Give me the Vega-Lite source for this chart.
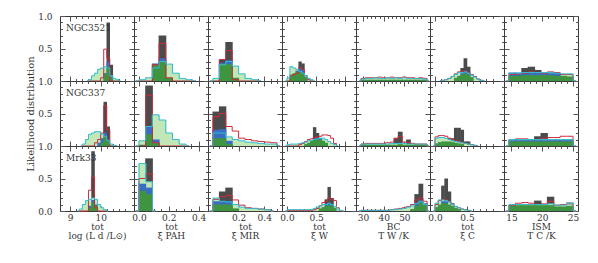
{
"$schema":"https://vega.github.io/schema/vega-lite/v6.json",
"padding":{"left":25,"top":11,"right":5,"bottom":5},
"config":{
 "view":{"stroke":"#3a3a3a","strokeWidth":1},
 "axis":{"domain":false,"grid":false,"labelFont":"DejaVu Serif","titleFont":"DejaVu Serif","labelFontSize":9,"titleFontSize":9,"labelColor":"#333","titleColor":"#333","tickColor":"#555","titleFontWeight":"normal","labelFlush":false,"labelOverlap":false},
 "axisX":{"labelPadding":7,"titlePadding":-2,"titleLineHeight":9},
 "axisY":{"labelPadding":13,"titlePadding":2,"titleFontSize":10},
 "axisTop":{"labels":false},
 "axisRight":{"labels":false},
 "title":{"font":"DejaVu Serif","fontSize":9,"fontWeight":"normal","color":"#333","anchor":"start","frame":"group","offset":-21,"dx":6},
 "bar":{"clip":true},
 "line":{"clip":true,"interpolate":"step","strokeWidth":1}
},
"data":{"name":"d"},
"datasets":{"d":[
{"p":"L","g":"A","x":9.55,"r":0,"c":0},
{"p":"L","g":"A","x":9.65,"r":0,"c":0.02},
{"p":"L","g":"A","x":9.75,"r":0,"c":0.08},
{"p":"L","g":"A","x":9.85,"r":0,"c":0.12},
{"p":"L","g":"A","x":9.95,"r":0,"c":0.18},
{"p":"L","g":"A","x":10.05,"r":0.05,"c":0.2},
{"p":"L","g":"A","x":10.15,"r":0.49,"c":0.22,"b":0.12,"n":0.1},
{"p":"L","g":"A","x":10.25,"k":0.9,"r":0.35,"c":0.2,"b":0.3,"n":0.22},
{"p":"L","g":"A","x":10.35,"k":0.25,"r":0,"c":0.08,"b":0.07,"n":0.05},
{"p":"L","g":"A","x":10.45,"r":0,"c":0.04},
{"p":"L","g":"A","x":10.55,"r":0,"c":0.02},
{"p":"L","g":"A","x":10.65,"r":0,"c":0},
{"p":"L","g":"B","x":9.35,"r":0,"c":0},
{"p":"L","g":"B","x":9.45,"r":0,"c":0.03},
{"p":"L","g":"B","x":9.55,"r":0,"c":0.1},
{"p":"L","g":"B","x":9.65,"r":0,"c":0.18},
{"p":"L","g":"B","x":9.75,"r":0,"c":0.2},
{"p":"L","g":"B","x":9.85,"r":0.05,"c":0.22},
{"p":"L","g":"B","x":9.95,"r":0.1,"c":0.22,"b":0.05},
{"p":"L","g":"B","x":10.05,"r":0.2,"c":0.18,"b":0.12,"n":0.05},
{"p":"L","g":"B","x":10.15,"k":0.68,"r":0.62,"c":0.15,"b":0.21,"n":0.15},
{"p":"L","g":"B","x":10.25,"k":0.3,"r":0.25,"c":0.08,"b":0.1,"n":0.08},
{"p":"L","g":"B","x":10.35,"r":0,"c":0.03},
{"p":"L","g":"B","x":10.45,"r":0,"c":0.01},
{"p":"L","g":"B","x":10.55,"r":0,"c":0},
{"p":"L","g":"C","x":9.25,"r":0,"c":0},
{"p":"L","g":"C","x":9.35,"r":0,"c":0.03},
{"p":"L","g":"C","x":9.45,"r":0,"c":0.1},
{"p":"L","g":"C","x":9.55,"r":0,"c":0.16},
{"p":"L","g":"C","x":9.65,"r":0.32,"c":0.18,"b":0.08,"n":0.05},
{"p":"L","g":"C","x":9.75,"k":0.92,"r":0.52,"c":0.2,"b":0.17,"n":0.13},
{"p":"L","g":"C","x":9.85,"r":0.05,"c":0.18,"b":0.1,"n":0.08},
{"p":"L","g":"C","x":9.95,"r":0,"c":0.1},
{"p":"L","g":"C","x":10.05,"r":0,"c":0.05},
{"p":"L","g":"C","x":10.15,"r":0,"c":0.02},
{"p":"L","g":"C","x":10.25,"r":0,"c":0},
{"p":"P","g":"A","x":-0.0225,"r":0,"c":0},
{"p":"P","g":"A","x":0.0225,"r":0,"c":0.02},
{"p":"P","g":"A","x":0.0675,"r":0,"c":0.05},
{"p":"P","g":"A","x":0.1125,"k":0.26,"r":0.25,"c":0.2,"b":0.27,"n":0.25},
{"p":"P","g":"A","x":0.1575,"k":0.7,"r":0.58,"c":0.3,"b":0.35,"n":0.3},
{"p":"P","g":"A","x":0.2025,"r":0.05,"c":0.26,"n":0.05},
{"p":"P","g":"A","x":0.2475,"r":0,"c":0.12},
{"p":"P","g":"A","x":0.2925,"r":0,"c":0.04},
{"p":"P","g":"A","x":0.3375,"r":0,"c":0.02},
{"p":"P","g":"A","x":0.3825,"r":0,"c":0},
{"p":"P","g":"B","x":-0.0225,"r":0,"c":0},
{"p":"P","g":"B","x":0.0225,"r":0,"c":0.08,"n":0.02},
{"p":"P","g":"B","x":0.0675,"k":0.93,"r":0.78,"c":0.3,"b":0.3,"n":0.18},
{"p":"P","g":"B","x":0.1125,"r":0.05,"c":0.48,"b":0.1,"n":0.05},
{"p":"P","g":"B","x":0.1575,"r":0,"c":0.4},
{"p":"P","g":"B","x":0.2025,"r":0,"c":0.2},
{"p":"P","g":"B","x":0.2475,"r":0,"c":0.1},
{"p":"P","g":"B","x":0.2925,"r":0,"c":0.03},
{"p":"P","g":"B","x":0.3375,"r":0,"c":0},
{"p":"P","g":"C","x":-0.0225,"r":0,"c":0},
{"p":"P","g":"C","x":0.0225,"r":0.5,"c":0.73,"b":0.42,"n":0.31},
{"p":"P","g":"C","x":0.0675,"k":0.81,"r":0.57,"c":0.45,"b":0.36,"n":0.26},
{"p":"P","g":"C","x":0.1125,"r":0,"c":0},
{"p":"M","g":"A","x":-0.025,"r":0,"c":0},
{"p":"M","g":"A","x":0.025,"r":0,"c":0.04},
{"p":"M","g":"A","x":0.075,"k":0.33,"r":0.33,"c":0.25,"b":0.28,"n":0.26},
{"p":"M","g":"A","x":0.125,"k":0.6,"r":0.47,"c":0.3,"b":0.32,"n":0.26},
{"p":"M","g":"A","x":0.175,"r":0.02,"c":0.23,"n":0.05},
{"p":"M","g":"A","x":0.225,"r":0,"c":0.11},
{"p":"M","g":"A","x":0.275,"r":0,"c":0.04},
{"p":"M","g":"A","x":0.325,"r":0,"c":0.02},
{"p":"M","g":"A","x":0.375,"r":0,"c":0},
{"p":"M","g":"B","x":-0.025,"r":0,"c":0},
{"p":"M","g":"B","x":0.025,"k":0.53,"r":0.45,"c":0.2,"b":0.25,"n":0.12},
{"p":"M","g":"B","x":0.075,"k":0.61,"r":0.5,"c":0.2,"b":0.26,"n":0.12},
{"p":"M","g":"B","x":0.125,"r":0.3,"c":0.14,"b":0.08,"n":0.03},
{"p":"M","g":"B","x":0.175,"r":0.23,"c":0.1},
{"p":"M","g":"B","x":0.225,"r":0.12,"c":0.08},
{"p":"M","g":"B","x":0.275,"r":0.1,"c":0.06},
{"p":"M","g":"B","x":0.325,"r":0.08,"c":0.05},
{"p":"M","g":"B","x":0.375,"r":0.07,"c":0.04},
{"p":"M","g":"B","x":0.425,"r":0.06,"c":0.03},
{"p":"M","g":"B","x":0.475,"r":0.05,"c":0.03},
{"p":"M","g":"B","x":0.525,"r":0,"c":0},
{"p":"M","g":"C","x":-0.025,"r":0,"c":0},
{"p":"M","g":"C","x":0.025,"r":0.18,"c":0.2,"b":0.15,"n":0.1},
{"p":"M","g":"C","x":0.075,"k":0.3,"r":0.22,"c":0.15,"b":0.15,"n":0.1},
{"p":"M","g":"C","x":0.125,"k":0.36,"r":0.24,"c":0.14,"b":0.15,"n":0.1},
{"p":"M","g":"C","x":0.175,"r":0.17,"c":0.1,"n":0.04},
{"p":"M","g":"C","x":0.225,"r":0.09,"c":0.06},
{"p":"M","g":"C","x":0.275,"r":0.05,"c":0.04},
{"p":"M","g":"C","x":0.325,"r":0.04,"c":0.04},
{"p":"M","g":"C","x":0.375,"r":0.03,"c":0.03},
{"p":"M","g":"C","x":0.425,"r":0.02,"c":0.02},
{"p":"M","g":"C","x":0.475,"r":0,"c":0},
{"p":"W","g":"A","x":-0.025,"r":0,"c":0},
{"p":"W","g":"A","x":0.025,"r":0,"c":0.05},
{"p":"W","g":"A","x":0.075,"r":0.08,"c":0.22,"n":0.1},
{"p":"W","g":"A","x":0.125,"r":0.1,"c":0.2,"n":0.12},
{"p":"W","g":"A","x":0.175,"r":0.12,"c":0.18,"b":0.16,"n":0.14},
{"p":"W","g":"A","x":0.225,"k":0.3,"r":0.2,"c":0.15,"b":0.2,"n":0.15},
{"p":"W","g":"A","x":0.275,"k":0.27,"r":0.18,"c":0.12,"b":0.17,"n":0.12},
{"p":"W","g":"A","x":0.325,"r":0.08,"c":0.08,"n":0.06},
{"p":"W","g":"A","x":0.375,"r":0.02,"c":0.04},
{"p":"W","g":"A","x":0.425,"r":0,"c":0.02},
{"p":"W","g":"A","x":0.475,"r":0,"c":0},
{"p":"W","g":"B","x":-0.025,"r":0,"c":0},
{"p":"W","g":"B","x":0.025,"r":0,"c":0.02},
{"p":"W","g":"B","x":0.075,"r":0,"c":0.03},
{"p":"W","g":"B","x":0.125,"r":0,"c":0.03},
{"p":"W","g":"B","x":0.175,"r":0,"c":0.03},
{"p":"W","g":"B","x":0.225,"r":0.02,"c":0.04},
{"p":"W","g":"B","x":0.275,"r":0.04,"c":0.05},
{"p":"W","g":"B","x":0.325,"r":0.07,"c":0.06,"n":0.03},
{"p":"W","g":"B","x":0.375,"r":0.1,"c":0.08,"n":0.05},
{"p":"W","g":"B","x":0.425,"r":0.11,"c":0.09,"n":0.08},
{"p":"W","g":"B","x":0.475,"k":0.29,"r":0.13,"c":0.1,"b":0.12,"n":0.1},
{"p":"W","g":"B","x":0.525,"k":0.2,"r":0.14,"c":0.11,"b":0.12,"n":0.1},
{"p":"W","g":"B","x":0.575,"r":0.15,"c":0.12,"b":0.12,"n":0.1},
{"p":"W","g":"B","x":0.625,"r":0.17,"c":0.12,"n":0.08},
{"p":"W","g":"B","x":0.675,"r":0.17,"c":0.1,"n":0.05},
{"p":"W","g":"B","x":0.725,"r":0.16,"c":0.07},
{"p":"W","g":"B","x":0.775,"r":0.12,"c":0.04},
{"p":"W","g":"B","x":0.825,"r":0.04,"c":0.02},
{"p":"W","g":"B","x":0.875,"r":0,"c":0},
{"p":"W","g":"C","x":-0.025,"r":0,"c":0},
{"p":"W","g":"C","x":0.025,"r":0.01,"c":0.02},
{"p":"W","g":"C","x":0.075,"r":0.01,"c":0.02},
{"p":"W","g":"C","x":0.125,"r":0.01,"c":0.02},
{"p":"W","g":"C","x":0.175,"r":0.01,"c":0.02},
{"p":"W","g":"C","x":0.225,"r":0.01,"c":0.02},
{"p":"W","g":"C","x":0.275,"r":0.01,"c":0.02},
{"p":"W","g":"C","x":0.325,"r":0.01,"c":0.02},
{"p":"W","g":"C","x":0.375,"r":0.01,"c":0.02},
{"p":"W","g":"C","x":0.425,"r":0.01,"c":0.02},
{"p":"W","g":"C","x":0.475,"r":0.02,"c":0.04},
{"p":"W","g":"C","x":0.525,"r":0.04,"c":0.06},
{"p":"W","g":"C","x":0.575,"r":0.08,"c":0.08,"n":0.04},
{"p":"W","g":"C","x":0.625,"r":0.13,"c":0.1,"n":0.06},
{"p":"W","g":"C","x":0.675,"k":0.18,"r":0.15,"c":0.1,"b":0.1,"n":0.08},
{"p":"W","g":"C","x":0.725,"k":0.37,"r":0.2,"c":0.12,"b":0.12,"n":0.09},
{"p":"W","g":"C","x":0.775,"k":0.2,"r":0.18,"c":0.1,"b":0.1,"n":0.08},
{"p":"W","g":"C","x":0.825,"r":0.16,"c":0.07,"n":0.05},
{"p":"W","g":"C","x":0.875,"r":0.05,"c":0.03},
{"p":"W","g":"C","x":0.925,"r":0,"c":0.01},
{"p":"W","g":"C","x":0.975,"r":0,"c":0},
{"p":"T","g":"A","x":28,"r":0,"c":0},
{"p":"T","g":"A","x":30,"r":0.04,"c":0.03,"n":0.02},
{"p":"T","g":"A","x":32,"r":0.05,"c":0.04,"n":0.02},
{"p":"T","g":"A","x":34,"r":0.05,"c":0.04,"n":0.02},
{"p":"T","g":"A","x":36,"r":0.05,"c":0.05,"n":0.02},
{"p":"T","g":"A","x":38,"r":0.06,"c":0.04,"n":0.02},
{"p":"T","g":"A","x":40,"r":0.05,"c":0.04,"n":0.02},
{"p":"T","g":"A","x":42,"r":0.05,"c":0.05,"n":0.02},
{"p":"T","g":"A","x":44,"r":0.06,"c":0.04,"n":0.02},
{"p":"T","g":"A","x":46,"r":0.05,"c":0.05,"n":0.02},
{"p":"T","g":"A","x":48,"r":0.05,"c":0.04,"n":0.02},
{"p":"T","g":"A","x":50,"r":0.06,"c":0.05,"n":0.02},
{"p":"T","g":"A","x":52,"r":0.05,"c":0.04,"n":0.02},
{"p":"T","g":"A","x":54,"r":0.05,"c":0.04,"n":0.02},
{"p":"T","g":"A","x":56,"r":0.04,"c":0.04,"n":0.02},
{"p":"T","g":"A","x":58,"r":0.05,"c":0.04,"n":0.02},
{"p":"T","g":"A","x":60,"r":0.04,"c":0.03,"n":0.02},
{"p":"T","g":"A","x":62,"r":0,"c":0},
{"p":"T","g":"B","x":28,"r":0,"c":0},
{"p":"T","g":"B","x":30,"r":0.03,"c":0.03,"n":0.02},
{"p":"T","g":"B","x":32,"r":0.04,"c":0.03,"n":0.02},
{"p":"T","g":"B","x":34,"r":0.04,"c":0.03,"n":0.02},
{"p":"T","g":"B","x":36,"r":0.04,"c":0.03,"n":0.02},
{"p":"T","g":"B","x":38,"r":0.04,"c":0.03,"n":0.02},
{"p":"T","g":"B","x":40,"r":0.04,"c":0.03,"n":0.02},
{"p":"T","g":"B","x":42,"r":0.05,"c":0.03,"n":0.02},
{"p":"T","g":"B","x":44,"r":0.06,"c":0.04,"n":0.02},
{"p":"T","g":"B","x":46,"k":0.12,"r":0.12,"c":0.04,"n":0.02},
{"p":"T","g":"B","x":48,"k":0.22,"r":0.15,"c":0.04,"n":0.03},
{"p":"T","g":"B","x":50,"r":0.06,"c":0.04,"n":0.02},
{"p":"T","g":"B","x":52,"k":0.1,"r":0.05,"c":0.03,"n":0.02},
{"p":"T","g":"B","x":54,"r":0.04,"c":0.03,"n":0.02},
{"p":"T","g":"B","x":56,"r":0.03,"c":0.03,"n":0.02},
{"p":"T","g":"B","x":58,"r":0.03,"c":0.03,"n":0.02},
{"p":"T","g":"B","x":60,"r":0.03,"c":0.03,"n":0.02},
{"p":"T","g":"B","x":62,"r":0,"c":0},
{"p":"T","g":"C","x":28,"r":0,"c":0},
{"p":"T","g":"C","x":30,"r":0.01,"c":0.01},
{"p":"T","g":"C","x":32,"r":0.01,"c":0.01},
{"p":"T","g":"C","x":34,"r":0.01,"c":0.01},
{"p":"T","g":"C","x":36,"r":0.01,"c":0.01},
{"p":"T","g":"C","x":38,"r":0.01,"c":0.01},
{"p":"T","g":"C","x":40,"r":0.01,"c":0.01},
{"p":"T","g":"C","x":42,"r":0.01,"c":0.01},
{"p":"T","g":"C","x":44,"r":0.02,"c":0.02},
{"p":"T","g":"C","x":46,"r":0.03,"c":0.02},
{"p":"T","g":"C","x":48,"r":0.04,"c":0.03},
{"p":"T","g":"C","x":50,"r":0.05,"c":0.04},
{"p":"T","g":"C","x":52,"r":0.07,"c":0.06},
{"p":"T","g":"C","x":54,"r":0.1,"c":0.08,"n":0.03},
{"p":"T","g":"C","x":56,"k":0.26,"r":0.17,"c":0.12,"b":0.12,"n":0.08},
{"p":"T","g":"C","x":58,"k":0.42,"r":0.2,"c":0.15,"b":0.16,"n":0.13},
{"p":"T","g":"C","x":60,"r":0.15,"c":0.1,"b":0.12,"n":0.1},
{"p":"T","g":"C","x":62,"r":0,"c":0},
{"p":"C","g":"A","x":0.075,"r":0,"c":0},
{"p":"C","g":"A","x":0.125,"r":0.01,"c":0.01},
{"p":"C","g":"A","x":0.175,"r":0.02,"c":0.02},
{"p":"C","g":"A","x":0.225,"r":0.04,"c":0.04},
{"p":"C","g":"A","x":0.275,"r":0.07,"c":0.07},
{"p":"C","g":"A","x":0.325,"r":0.11,"c":0.1,"n":0.05},
{"p":"C","g":"A","x":0.375,"r":0.14,"c":0.13,"n":0.08},
{"p":"C","g":"A","x":0.425,"k":0.2,"r":0.15,"c":0.13,"b":0.12,"n":0.1},
{"p":"C","g":"A","x":0.475,"k":0.35,"r":0.15,"c":0.14,"b":0.16,"n":0.12},
{"p":"C","g":"A","x":0.525,"k":0.22,"r":0.13,"c":0.12,"b":0.12,"n":0.1},
{"p":"C","g":"A","x":0.575,"r":0.1,"c":0.09,"n":0.06},
{"p":"C","g":"A","x":0.625,"r":0.07,"c":0.06},
{"p":"C","g":"A","x":0.675,"r":0.03,"c":0.03},
{"p":"C","g":"A","x":0.725,"r":0.01,"c":0.01},
{"p":"C","g":"A","x":0.775,"r":0,"c":0},
{"p":"C","g":"B","x":-0.025,"r":0,"c":0},
{"p":"C","g":"B","x":0.025,"r":0.14,"c":0.12,"n":0.04},
{"p":"C","g":"B","x":0.075,"r":0.16,"c":0.13,"n":0.06},
{"p":"C","g":"B","x":0.125,"r":0.16,"c":0.13,"n":0.07},
{"p":"C","g":"B","x":0.175,"r":0.15,"c":0.12,"n":0.07},
{"p":"C","g":"B","x":0.225,"k":0.12,"r":0.12,"c":0.1,"n":0.07},
{"p":"C","g":"B","x":0.275,"k":0.12,"r":0.1,"c":0.08,"n":0.06},
{"p":"C","g":"B","x":0.325,"k":0.28,"r":0.08,"c":0.07,"n":0.05},
{"p":"C","g":"B","x":0.375,"k":0.28,"r":0.07,"c":0.06,"n":0.04},
{"p":"C","g":"B","x":0.425,"k":0.25,"r":0.05,"c":0.05,"n":0.03},
{"p":"C","g":"B","x":0.475,"k":0.07,"r":0.04,"c":0.04},
{"p":"C","g":"B","x":0.525,"k":0.07,"r":0.03,"c":0.03},
{"p":"C","g":"B","x":0.575,"r":0.02,"c":0.02},
{"p":"C","g":"B","x":0.625,"r":0.01,"c":0.01},
{"p":"C","g":"B","x":0.675,"r":0,"c":0},
{"p":"C","g":"C","x":-0.025,"r":0,"c":0},
{"p":"C","g":"C","x":0.025,"r":0.1,"c":0.12,"n":0.06},
{"p":"C","g":"C","x":0.075,"k":0.15,"r":0.16,"c":0.17,"n":0.1},
{"p":"C","g":"C","x":0.125,"k":0.39,"r":0.18,"c":0.17,"b":0.15,"n":0.12},
{"p":"C","g":"C","x":0.175,"k":0.5,"r":0.17,"c":0.16,"b":0.15,"n":0.12},
{"p":"C","g":"C","x":0.225,"k":0.3,"r":0.14,"c":0.14,"n":0.1},
{"p":"C","g":"C","x":0.275,"k":0.12,"r":0.1,"c":0.1,"n":0.08},
{"p":"C","g":"C","x":0.325,"r":0.07,"c":0.07,"n":0.05},
{"p":"C","g":"C","x":0.375,"r":0.05,"c":0.05,"n":0.03},
{"p":"C","g":"C","x":0.425,"r":0.03,"c":0.03},
{"p":"C","g":"C","x":0.475,"r":0.02,"c":0.02},
{"p":"C","g":"C","x":0.525,"r":0.01,"c":0.01},
{"p":"C","g":"C","x":0.575,"r":0,"c":0},
{"p":"I","g":"A","x":14.08,"r":0,"c":0},
{"p":"I","g":"A","x":15.12,"r":0.1,"c":0.12,"b":0.13,"n":0.08},
{"p":"I","g":"A","x":16.16,"r":0.11,"c":0.12,"b":0.13,"n":0.08},
{"p":"I","g":"A","x":17.2,"k":0.2,"r":0.12,"c":0.13,"b":0.13,"n":0.09},
{"p":"I","g":"A","x":18.24,"k":0.22,"r":0.14,"c":0.13,"b":0.13,"n":0.09},
{"p":"I","g":"A","x":19.28,"k":0.17,"r":0.13,"c":0.13,"b":0.13,"n":0.09},
{"p":"I","g":"A","x":20.32,"r":0.12,"c":0.13,"b":0.12,"n":0.09},
{"p":"I","g":"A","x":21.36,"r":0.14,"c":0.13,"b":0.12,"n":0.09},
{"p":"I","g":"A","x":22.4,"r":0.13,"c":0.12,"b":0.12,"n":0.08},
{"p":"I","g":"A","x":23.44,"r":0.1,"c":0.11,"n":0.08},
{"p":"I","g":"A","x":24.48,"r":0.1,"c":0.11,"n":0.07},
{"p":"I","g":"A","x":25.52,"r":0,"c":0},
{"p":"I","g":"B","x":14.08,"r":0,"c":0},
{"p":"I","g":"B","x":15.12,"r":0.1,"c":0.1,"b":0.09,"n":0.07},
{"p":"I","g":"B","x":16.16,"r":0.11,"c":0.1,"b":0.09,"n":0.07},
{"p":"I","g":"B","x":17.2,"r":0.11,"c":0.1,"b":0.09,"n":0.07},
{"p":"I","g":"B","x":18.24,"r":0.1,"c":0.1,"b":0.09,"n":0.07},
{"p":"I","g":"B","x":19.28,"k":0.15,"r":0.1,"c":0.1,"b":0.09,"n":0.07},
{"p":"I","g":"B","x":20.32,"k":0.2,"r":0.12,"c":0.1,"b":0.09,"n":0.07},
{"p":"I","g":"B","x":21.36,"r":0.13,"c":0.1,"b":0.09,"n":0.07},
{"p":"I","g":"B","x":22.4,"r":0.13,"c":0.1,"b":0.09,"n":0.07},
{"p":"I","g":"B","x":23.44,"r":0.15,"c":0.1,"b":0.09,"n":0.07},
{"p":"I","g":"B","x":24.48,"r":0.15,"c":0.1,"b":0.09,"n":0.07},
{"p":"I","g":"B","x":25.52,"r":0,"c":0},
{"p":"I","g":"C","x":14.08,"r":0,"c":0},
{"p":"I","g":"C","x":15.12,"r":0.09,"c":0.1,"n":0.09},
{"p":"I","g":"C","x":16.16,"r":0.12,"c":0.1,"n":0.09},
{"p":"I","g":"C","x":17.2,"r":0.13,"c":0.1,"n":0.09},
{"p":"I","g":"C","x":18.24,"r":0.12,"c":0.1,"n":0.09},
{"p":"I","g":"C","x":19.28,"k":0.16,"r":0.1,"c":0.1,"n":0.09},
{"p":"I","g":"C","x":20.32,"r":0.11,"c":0.1,"n":0.09},
{"p":"I","g":"C","x":21.36,"k":0.22,"r":0.15,"c":0.11,"n":0.09},
{"p":"I","g":"C","x":22.4,"r":0.09,"c":0.09,"n":0.07},
{"p":"I","g":"C","x":23.44,"r":0.1,"c":0.09,"n":0.07},
{"p":"I","g":"C","x":24.48,"k":0.13,"r":0.11,"c":0.12,"n":0.08},
{"p":"I","g":"C","x":25.52,"r":0,"c":0}
]},
"columns":7,
"spacing":0,
"bounds":"flush",
"concat":[
{"transform":[{"filter":"datum.p=='L'&&datum.g=='A'"}],"width":74,"height":65,"title":"NGC3521",
 "encoding":{"x":{"field":"x","type":"quantitative","scale":{"domain":[8.83,10.93],"nice":false,"zero":false},"axis":null}},
 "layer":[
  {"mark":{"type":"bar","width":3.5,"color":"#4b4b4b"},"encoding":{"x":{"field":"x","type":"quantitative","scale":{"domain":[8.83,10.93],"nice":false,"zero":false},"axis":{"orient":"bottom","values":[9,9.2,9.4,9.6,9.8,10,10.2,10.4,10.6,10.8],"labels":false,"title":null,"tickSize":{"condition":{"test":"datum.value==9||datum.value==10","value":-5},"value":-2.5}}},"y":{"field":"k","type":"quantitative","scale":{"domain":[0,1],"nice":false},"axis":{"orient":"left","values":[0,0.1,0.2,0.3,0.4,0.5,0.6,0.7,0.8,0.9,1],"labelExpr":"datum.value==0.5||datum.value==1 ? format(datum.value,'.1f') : ''","title":"Likelihood distribution","titleY":97.5,"tickSize":{"condition":{"test":"datum.value==0||datum.value==0.5||datum.value==1","value":-5},"value":-2.5}}}}},
  {"mark":{"type":"bar","width":3.5,"color":"#c2e7b6"},"encoding":{"y":{"field":"c","type":"quantitative","axis":null}}},
  {"mark":{"type":"bar","width":3.5,"color":"#3a6cc0"},"encoding":{"y":{"field":"b","type":"quantitative","axis":null}}},
  {"mark":{"type":"bar","width":3.5,"color":"#3f9440"},"encoding":{"y":{"field":"n","type":"quantitative","axis":null}}},
  {"mark":{"type":"line","color":"#cc2b3b"},"encoding":{"y":{"field":"r","type":"quantitative","axis":{"orient":"right","values":[0,0.1,0.2,0.3,0.4,0.5,0.6,0.7,0.8,0.9,1],"title":null,"tickSize":{"condition":{"test":"datum.value==0||datum.value==0.5||datum.value==1","value":-5},"value":-2.5}}}}},
  {"mark":{"type":"line","color":"#2fbdd2"},"encoding":{"x":{"field":"x","type":"quantitative","scale":{"domain":[8.83,10.93],"nice":false,"zero":false},"axis":{"orient":"top","values":[9,9.2,9.4,9.6,9.8,10,10.2,10.4,10.6,10.8],"title":null,"tickSize":{"condition":{"test":"datum.value==9||datum.value==10","value":-5},"value":-2.5}}},"y":{"field":"c","type":"quantitative","axis":null}}}
 ]},
{"transform":[{"filter":"datum.p=='P'&&datum.g=='A'"}],"width":74,"height":65,
 "encoding":{"x":{"field":"x","type":"quantitative","scale":{"domain":[0,0.43],"nice":false,"zero":false},"axis":null}},
 "layer":[
  {"mark":{"type":"bar","width":7.7,"color":"#4b4b4b"},"encoding":{"x":{"field":"x","type":"quantitative","scale":{"domain":[0,0.43],"nice":false,"zero":false},"axis":{"orient":"bottom","values":[0,0.05,0.1,0.15,0.2,0.25,0.3,0.35,0.4],"labels":false,"title":null,"tickSize":{"condition":{"test":"datum.value==0||datum.value==0.2||datum.value==0.4","value":-5},"value":-2.5}}},"y":{"field":"k","type":"quantitative","scale":{"domain":[0,1],"nice":false},"axis":{"orient":"left","values":[0,0.1,0.2,0.3,0.4,0.5,0.6,0.7,0.8,0.9,1],"labels":false,"title":null,"tickSize":{"condition":{"test":"datum.value==0||datum.value==0.5||datum.value==1","value":-5},"value":-2.5}}}}},
  {"mark":{"type":"bar","width":7.7,"color":"#c2e7b6"},"encoding":{"y":{"field":"c","type":"quantitative","axis":null}}},
  {"mark":{"type":"bar","width":7.7,"color":"#3a6cc0"},"encoding":{"y":{"field":"b","type":"quantitative","axis":null}}},
  {"mark":{"type":"bar","width":7.7,"color":"#3f9440"},"encoding":{"y":{"field":"n","type":"quantitative","axis":null}}},
  {"mark":{"type":"line","color":"#cc2b3b"},"encoding":{"y":{"field":"r","type":"quantitative","axis":{"orient":"right","values":[0,0.1,0.2,0.3,0.4,0.5,0.6,0.7,0.8,0.9,1],"title":null,"tickSize":{"condition":{"test":"datum.value==0||datum.value==0.5||datum.value==1","value":-5},"value":-2.5}}}}},
  {"mark":{"type":"line","color":"#2fbdd2"},"encoding":{"x":{"field":"x","type":"quantitative","scale":{"domain":[0,0.43],"nice":false,"zero":false},"axis":{"orient":"top","values":[0,0.05,0.1,0.15,0.2,0.25,0.3,0.35,0.4],"title":null,"tickSize":{"condition":{"test":"datum.value==0||datum.value==0.2||datum.value==0.4","value":-5},"value":-2.5}}},"y":{"field":"c","type":"quantitative","axis":null}}}
 ]},
{"transform":[{"filter":"datum.p=='M'&&datum.g=='A'"}],"width":74,"height":65,
 "encoding":{"x":{"field":"x","type":"quantitative","scale":{"domain":[0,0.5],"nice":false,"zero":false},"axis":null}},
 "layer":[
  {"mark":{"type":"bar","width":7.4,"color":"#4b4b4b"},"encoding":{"x":{"field":"x","type":"quantitative","scale":{"domain":[0,0.5],"nice":false,"zero":false},"axis":{"orient":"bottom","values":[0,0.05,0.1,0.15,0.2,0.25,0.3,0.35,0.4,0.45,0.5],"labels":false,"title":null,"tickSize":{"condition":{"test":"datum.value==0.2||datum.value==0.4","value":-5},"value":-2.5}}},"y":{"field":"k","type":"quantitative","scale":{"domain":[0,1],"nice":false},"axis":{"orient":"left","values":[0,0.1,0.2,0.3,0.4,0.5,0.6,0.7,0.8,0.9,1],"labels":false,"title":null,"tickSize":{"condition":{"test":"datum.value==0||datum.value==0.5||datum.value==1","value":-5},"value":-2.5}}}}},
  {"mark":{"type":"bar","width":7.4,"color":"#c2e7b6"},"encoding":{"y":{"field":"c","type":"quantitative","axis":null}}},
  {"mark":{"type":"bar","width":7.4,"color":"#3a6cc0"},"encoding":{"y":{"field":"b","type":"quantitative","axis":null}}},
  {"mark":{"type":"bar","width":7.4,"color":"#3f9440"},"encoding":{"y":{"field":"n","type":"quantitative","axis":null}}},
  {"mark":{"type":"line","color":"#cc2b3b"},"encoding":{"y":{"field":"r","type":"quantitative","axis":{"orient":"right","values":[0,0.1,0.2,0.3,0.4,0.5,0.6,0.7,0.8,0.9,1],"title":null,"tickSize":{"condition":{"test":"datum.value==0||datum.value==0.5||datum.value==1","value":-5},"value":-2.5}}}}},
  {"mark":{"type":"line","color":"#2fbdd2"},"encoding":{"x":{"field":"x","type":"quantitative","scale":{"domain":[0,0.5],"nice":false,"zero":false},"axis":{"orient":"top","values":[0,0.05,0.1,0.15,0.2,0.25,0.3,0.35,0.4,0.45,0.5],"title":null,"tickSize":{"condition":{"test":"datum.value==0.2||datum.value==0.4","value":-5},"value":-2.5}}},"y":{"field":"c","type":"quantitative","axis":null}}}
 ]},
{"transform":[{"filter":"datum.p=='W'&&datum.g=='A'"}],"width":74,"height":65,
 "encoding":{"x":{"field":"x","type":"quantitative","scale":{"domain":[0,1.1],"nice":false,"zero":false},"axis":null}},
 "layer":[
  {"mark":{"type":"bar","width":3.4,"color":"#4b4b4b"},"encoding":{"x":{"field":"x","type":"quantitative","scale":{"domain":[0,1.1],"nice":false,"zero":false},"axis":{"orient":"bottom","values":[0,0.1,0.2,0.3,0.4,0.5,0.6,0.7,0.8,0.9,1],"labels":false,"title":null,"tickSize":{"condition":{"test":"datum.value==0||datum.value==0.5||datum.value==1","value":-5},"value":-2.5}}},"y":{"field":"k","type":"quantitative","scale":{"domain":[0,1],"nice":false},"axis":{"orient":"left","values":[0,0.1,0.2,0.3,0.4,0.5,0.6,0.7,0.8,0.9,1],"labels":false,"title":null,"tickSize":{"condition":{"test":"datum.value==0||datum.value==0.5||datum.value==1","value":-5},"value":-2.5}}}}},
  {"mark":{"type":"bar","width":3.4,"color":"#c2e7b6"},"encoding":{"y":{"field":"c","type":"quantitative","axis":null}}},
  {"mark":{"type":"bar","width":3.4,"color":"#3a6cc0"},"encoding":{"y":{"field":"b","type":"quantitative","axis":null}}},
  {"mark":{"type":"bar","width":3.4,"color":"#3f9440"},"encoding":{"y":{"field":"n","type":"quantitative","axis":null}}},
  {"mark":{"type":"line","color":"#cc2b3b"},"encoding":{"y":{"field":"r","type":"quantitative","axis":{"orient":"right","values":[0,0.1,0.2,0.3,0.4,0.5,0.6,0.7,0.8,0.9,1],"title":null,"tickSize":{"condition":{"test":"datum.value==0||datum.value==0.5||datum.value==1","value":-5},"value":-2.5}}}}},
  {"mark":{"type":"line","color":"#2fbdd2"},"encoding":{"x":{"field":"x","type":"quantitative","scale":{"domain":[0,1.1],"nice":false,"zero":false},"axis":{"orient":"top","values":[0,0.1,0.2,0.3,0.4,0.5,0.6,0.7,0.8,0.9,1],"title":null,"tickSize":{"condition":{"test":"datum.value==0||datum.value==0.5||datum.value==1","value":-5},"value":-2.5}}},"y":{"field":"c","type":"quantitative","axis":null}}}
 ]},
{"transform":[{"filter":"datum.p=='T'&&datum.g=='A'"}],"width":74,"height":65,
 "encoding":{"x":{"field":"x","type":"quantitative","scale":{"domain":[29,60],"nice":false,"zero":false},"axis":null}},
 "layer":[
  {"mark":{"type":"bar","width":4.8,"color":"#4b4b4b"},"encoding":{"x":{"field":"x","type":"quantitative","scale":{"domain":[29,60],"nice":false,"zero":false},"axis":{"orient":"bottom","values":[30,32,34,36,38,40,42,44,46,48,50,52,54,56,58],"labels":false,"title":null,"tickSize":{"condition":{"test":"datum.value==30||datum.value==40||datum.value==50","value":-5},"value":-2.5}}},"y":{"field":"k","type":"quantitative","scale":{"domain":[0,1],"nice":false},"axis":{"orient":"left","values":[0,0.1,0.2,0.3,0.4,0.5,0.6,0.7,0.8,0.9,1],"labels":false,"title":null,"tickSize":{"condition":{"test":"datum.value==0||datum.value==0.5||datum.value==1","value":-5},"value":-2.5}}}}},
  {"mark":{"type":"bar","width":4.8,"color":"#c2e7b6"},"encoding":{"y":{"field":"c","type":"quantitative","axis":null}}},
  {"mark":{"type":"bar","width":4.8,"color":"#3a6cc0"},"encoding":{"y":{"field":"b","type":"quantitative","axis":null}}},
  {"mark":{"type":"bar","width":4.8,"color":"#3f9440"},"encoding":{"y":{"field":"n","type":"quantitative","axis":null}}},
  {"mark":{"type":"line","color":"#cc2b3b"},"encoding":{"y":{"field":"r","type":"quantitative","axis":{"orient":"right","values":[0,0.1,0.2,0.3,0.4,0.5,0.6,0.7,0.8,0.9,1],"title":null,"tickSize":{"condition":{"test":"datum.value==0||datum.value==0.5||datum.value==1","value":-5},"value":-2.5}}}}},
  {"mark":{"type":"line","color":"#2fbdd2"},"encoding":{"x":{"field":"x","type":"quantitative","scale":{"domain":[29,60],"nice":false,"zero":false},"axis":{"orient":"top","values":[30,32,34,36,38,40,42,44,46,48,50,52,54,56,58],"title":null,"tickSize":{"condition":{"test":"datum.value==30||datum.value==40||datum.value==50","value":-5},"value":-2.5}}},"y":{"field":"c","type":"quantitative","axis":null}}}
 ]},
{"transform":[{"filter":"datum.p=='C'&&datum.g=='A'"}],"width":74,"height":65,
 "encoding":{"x":{"field":"x","type":"quantitative","scale":{"domain":[0,1],"nice":false,"zero":false},"axis":null}},
 "layer":[
  {"mark":{"type":"bar","width":3.7,"color":"#4b4b4b"},"encoding":{"x":{"field":"x","type":"quantitative","scale":{"domain":[0,1],"nice":false,"zero":false},"axis":{"orient":"bottom","values":[0,0.1,0.2,0.3,0.4,0.5,0.6,0.7,0.8,0.9],"labels":false,"title":null,"tickSize":{"condition":{"test":"datum.value==0||datum.value==0.5","value":-5},"value":-2.5}}},"y":{"field":"k","type":"quantitative","scale":{"domain":[0,1],"nice":false},"axis":{"orient":"left","values":[0,0.1,0.2,0.3,0.4,0.5,0.6,0.7,0.8,0.9,1],"labels":false,"title":null,"tickSize":{"condition":{"test":"datum.value==0||datum.value==0.5||datum.value==1","value":-5},"value":-2.5}}}}},
  {"mark":{"type":"bar","width":3.7,"color":"#c2e7b6"},"encoding":{"y":{"field":"c","type":"quantitative","axis":null}}},
  {"mark":{"type":"bar","width":3.7,"color":"#3a6cc0"},"encoding":{"y":{"field":"b","type":"quantitative","axis":null}}},
  {"mark":{"type":"bar","width":3.7,"color":"#3f9440"},"encoding":{"y":{"field":"n","type":"quantitative","axis":null}}},
  {"mark":{"type":"line","color":"#cc2b3b"},"encoding":{"y":{"field":"r","type":"quantitative","axis":{"orient":"right","values":[0,0.1,0.2,0.3,0.4,0.5,0.6,0.7,0.8,0.9,1],"title":null,"tickSize":{"condition":{"test":"datum.value==0||datum.value==0.5||datum.value==1","value":-5},"value":-2.5}}}}},
  {"mark":{"type":"line","color":"#2fbdd2"},"encoding":{"x":{"field":"x","type":"quantitative","scale":{"domain":[0,1],"nice":false,"zero":false},"axis":{"orient":"top","values":[0,0.1,0.2,0.3,0.4,0.5,0.6,0.7,0.8,0.9],"title":null,"tickSize":{"condition":{"test":"datum.value==0||datum.value==0.5","value":-5},"value":-2.5}}},"y":{"field":"c","type":"quantitative","axis":null}}}
 ]},
{"transform":[{"filter":"datum.p=='I'&&datum.g=='A'"}],"width":74,"height":65,
 "encoding":{"x":{"field":"x","type":"quantitative","scale":{"domain":[14.6,25],"nice":false,"zero":false},"axis":null}},
 "layer":[
  {"mark":{"type":"bar","width":7.4,"color":"#4b4b4b"},"encoding":{"x":{"field":"x","type":"quantitative","scale":{"domain":[14.6,25],"nice":false,"zero":false},"axis":{"orient":"bottom","values":[15,16,17,18,19,20,21,22,23,24,25],"labels":false,"title":null,"tickSize":{"condition":{"test":"datum.value==15||datum.value==20||datum.value==25","value":-5},"value":-2.5}}},"y":{"field":"k","type":"quantitative","scale":{"domain":[0,1],"nice":false},"axis":{"orient":"left","values":[0,0.1,0.2,0.3,0.4,0.5,0.6,0.7,0.8,0.9,1],"labels":false,"title":null,"tickSize":{"condition":{"test":"datum.value==0||datum.value==0.5||datum.value==1","value":-5},"value":-2.5}}}}},
  {"mark":{"type":"bar","width":7.4,"color":"#c2e7b6"},"encoding":{"y":{"field":"c","type":"quantitative","axis":null}}},
  {"mark":{"type":"bar","width":7.4,"color":"#3a6cc0"},"encoding":{"y":{"field":"b","type":"quantitative","axis":null}}},
  {"mark":{"type":"bar","width":7.4,"color":"#3f9440"},"encoding":{"y":{"field":"n","type":"quantitative","axis":null}}},
  {"mark":{"type":"line","color":"#cc2b3b"},"encoding":{"y":{"field":"r","type":"quantitative","axis":{"orient":"right","values":[0,0.1,0.2,0.3,0.4,0.5,0.6,0.7,0.8,0.9,1],"title":null,"tickSize":{"condition":{"test":"datum.value==0||datum.value==0.5||datum.value==1","value":-5},"value":-2.5}}}}},
  {"mark":{"type":"line","color":"#2fbdd2"},"encoding":{"x":{"field":"x","type":"quantitative","scale":{"domain":[14.6,25],"nice":false,"zero":false},"axis":{"orient":"top","values":[15,16,17,18,19,20,21,22,23,24,25],"title":null,"tickSize":{"condition":{"test":"datum.value==15||datum.value==20||datum.value==25","value":-5},"value":-2.5}}},"y":{"field":"c","type":"quantitative","axis":null}}}
 ]},
{"transform":[{"filter":"datum.p=='L'&&datum.g=='B'"}],"width":74,"height":65,"title":"NGC337",
 "encoding":{"x":{"field":"x","type":"quantitative","scale":{"domain":[8.83,10.93],"nice":false,"zero":false},"axis":null}},
 "layer":[
  {"mark":{"type":"bar","width":3.5,"color":"#4b4b4b"},"encoding":{"x":{"field":"x","type":"quantitative","scale":{"domain":[8.83,10.93],"nice":false,"zero":false},"axis":{"orient":"bottom","values":[9,9.2,9.4,9.6,9.8,10,10.2,10.4,10.6,10.8],"labels":false,"title":null,"tickSize":{"condition":{"test":"datum.value==9||datum.value==10","value":-5},"value":-2.5}}},"y":{"field":"k","type":"quantitative","scale":{"domain":[0,1],"nice":false},"axis":{"orient":"left","values":[0,0.1,0.2,0.3,0.4,0.5,0.6,0.7,0.8,0.9,1],"labelExpr":"datum.value==0.5||datum.value==1 ? format(datum.value,'.1f') : ''","title":null,"tickSize":{"condition":{"test":"datum.value==0||datum.value==0.5||datum.value==1","value":-5},"value":-2.5}}}}},
  {"mark":{"type":"bar","width":3.5,"color":"#c2e7b6"},"encoding":{"y":{"field":"c","type":"quantitative","axis":null}}},
  {"mark":{"type":"bar","width":3.5,"color":"#3a6cc0"},"encoding":{"y":{"field":"b","type":"quantitative","axis":null}}},
  {"mark":{"type":"bar","width":3.5,"color":"#3f9440"},"encoding":{"y":{"field":"n","type":"quantitative","axis":null}}},
  {"mark":{"type":"line","color":"#cc2b3b"},"encoding":{"y":{"field":"r","type":"quantitative","axis":{"orient":"right","values":[0,0.1,0.2,0.3,0.4,0.5,0.6,0.7,0.8,0.9,1],"title":null,"tickSize":{"condition":{"test":"datum.value==0||datum.value==0.5||datum.value==1","value":-5},"value":-2.5}}}}},
  {"mark":{"type":"line","color":"#2fbdd2"},"encoding":{"x":{"field":"x","type":"quantitative","scale":{"domain":[8.83,10.93],"nice":false,"zero":false},"axis":{"orient":"top","values":[9,9.2,9.4,9.6,9.8,10,10.2,10.4,10.6,10.8],"title":null,"tickSize":{"condition":{"test":"datum.value==9||datum.value==10","value":-5},"value":-2.5}}},"y":{"field":"c","type":"quantitative","axis":null}}}
 ]},
{"transform":[{"filter":"datum.p=='P'&&datum.g=='B'"}],"width":74,"height":65,
 "encoding":{"x":{"field":"x","type":"quantitative","scale":{"domain":[0,0.43],"nice":false,"zero":false},"axis":null}},
 "layer":[
  {"mark":{"type":"bar","width":7.7,"color":"#4b4b4b"},"encoding":{"x":{"field":"x","type":"quantitative","scale":{"domain":[0,0.43],"nice":false,"zero":false},"axis":{"orient":"bottom","values":[0,0.05,0.1,0.15,0.2,0.25,0.3,0.35,0.4],"labels":false,"title":null,"tickSize":{"condition":{"test":"datum.value==0||datum.value==0.2||datum.value==0.4","value":-5},"value":-2.5}}},"y":{"field":"k","type":"quantitative","scale":{"domain":[0,1],"nice":false},"axis":{"orient":"left","values":[0,0.1,0.2,0.3,0.4,0.5,0.6,0.7,0.8,0.9,1],"labels":false,"title":null,"tickSize":{"condition":{"test":"datum.value==0||datum.value==0.5||datum.value==1","value":-5},"value":-2.5}}}}},
  {"mark":{"type":"bar","width":7.7,"color":"#c2e7b6"},"encoding":{"y":{"field":"c","type":"quantitative","axis":null}}},
  {"mark":{"type":"bar","width":7.7,"color":"#3a6cc0"},"encoding":{"y":{"field":"b","type":"quantitative","axis":null}}},
  {"mark":{"type":"bar","width":7.7,"color":"#3f9440"},"encoding":{"y":{"field":"n","type":"quantitative","axis":null}}},
  {"mark":{"type":"line","color":"#cc2b3b"},"encoding":{"y":{"field":"r","type":"quantitative","axis":{"orient":"right","values":[0,0.1,0.2,0.3,0.4,0.5,0.6,0.7,0.8,0.9,1],"title":null,"tickSize":{"condition":{"test":"datum.value==0||datum.value==0.5||datum.value==1","value":-5},"value":-2.5}}}}},
  {"mark":{"type":"line","color":"#2fbdd2"},"encoding":{"x":{"field":"x","type":"quantitative","scale":{"domain":[0,0.43],"nice":false,"zero":false},"axis":{"orient":"top","values":[0,0.05,0.1,0.15,0.2,0.25,0.3,0.35,0.4],"title":null,"tickSize":{"condition":{"test":"datum.value==0||datum.value==0.2||datum.value==0.4","value":-5},"value":-2.5}}},"y":{"field":"c","type":"quantitative","axis":null}}}
 ]},
{"transform":[{"filter":"datum.p=='M'&&datum.g=='B'"}],"width":74,"height":65,
 "encoding":{"x":{"field":"x","type":"quantitative","scale":{"domain":[0,0.5],"nice":false,"zero":false},"axis":null}},
 "layer":[
  {"mark":{"type":"bar","width":7.4,"color":"#4b4b4b"},"encoding":{"x":{"field":"x","type":"quantitative","scale":{"domain":[0,0.5],"nice":false,"zero":false},"axis":{"orient":"bottom","values":[0,0.05,0.1,0.15,0.2,0.25,0.3,0.35,0.4,0.45,0.5],"labels":false,"title":null,"tickSize":{"condition":{"test":"datum.value==0.2||datum.value==0.4","value":-5},"value":-2.5}}},"y":{"field":"k","type":"quantitative","scale":{"domain":[0,1],"nice":false},"axis":{"orient":"left","values":[0,0.1,0.2,0.3,0.4,0.5,0.6,0.7,0.8,0.9,1],"labels":false,"title":null,"tickSize":{"condition":{"test":"datum.value==0||datum.value==0.5||datum.value==1","value":-5},"value":-2.5}}}}},
  {"mark":{"type":"bar","width":7.4,"color":"#c2e7b6"},"encoding":{"y":{"field":"c","type":"quantitative","axis":null}}},
  {"mark":{"type":"bar","width":7.4,"color":"#3a6cc0"},"encoding":{"y":{"field":"b","type":"quantitative","axis":null}}},
  {"mark":{"type":"bar","width":7.4,"color":"#3f9440"},"encoding":{"y":{"field":"n","type":"quantitative","axis":null}}},
  {"mark":{"type":"line","color":"#cc2b3b"},"encoding":{"y":{"field":"r","type":"quantitative","axis":{"orient":"right","values":[0,0.1,0.2,0.3,0.4,0.5,0.6,0.7,0.8,0.9,1],"title":null,"tickSize":{"condition":{"test":"datum.value==0||datum.value==0.5||datum.value==1","value":-5},"value":-2.5}}}}},
  {"mark":{"type":"line","color":"#2fbdd2"},"encoding":{"x":{"field":"x","type":"quantitative","scale":{"domain":[0,0.5],"nice":false,"zero":false},"axis":{"orient":"top","values":[0,0.05,0.1,0.15,0.2,0.25,0.3,0.35,0.4,0.45,0.5],"title":null,"tickSize":{"condition":{"test":"datum.value==0.2||datum.value==0.4","value":-5},"value":-2.5}}},"y":{"field":"c","type":"quantitative","axis":null}}}
 ]},
{"transform":[{"filter":"datum.p=='W'&&datum.g=='B'"}],"width":74,"height":65,
 "encoding":{"x":{"field":"x","type":"quantitative","scale":{"domain":[0,1.1],"nice":false,"zero":false},"axis":null}},
 "layer":[
  {"mark":{"type":"bar","width":3.4,"color":"#4b4b4b"},"encoding":{"x":{"field":"x","type":"quantitative","scale":{"domain":[0,1.1],"nice":false,"zero":false},"axis":{"orient":"bottom","values":[0,0.1,0.2,0.3,0.4,0.5,0.6,0.7,0.8,0.9,1],"labels":false,"title":null,"tickSize":{"condition":{"test":"datum.value==0||datum.value==0.5||datum.value==1","value":-5},"value":-2.5}}},"y":{"field":"k","type":"quantitative","scale":{"domain":[0,1],"nice":false},"axis":{"orient":"left","values":[0,0.1,0.2,0.3,0.4,0.5,0.6,0.7,0.8,0.9,1],"labels":false,"title":null,"tickSize":{"condition":{"test":"datum.value==0||datum.value==0.5||datum.value==1","value":-5},"value":-2.5}}}}},
  {"mark":{"type":"bar","width":3.4,"color":"#c2e7b6"},"encoding":{"y":{"field":"c","type":"quantitative","axis":null}}},
  {"mark":{"type":"bar","width":3.4,"color":"#3a6cc0"},"encoding":{"y":{"field":"b","type":"quantitative","axis":null}}},
  {"mark":{"type":"bar","width":3.4,"color":"#3f9440"},"encoding":{"y":{"field":"n","type":"quantitative","axis":null}}},
  {"mark":{"type":"line","color":"#cc2b3b"},"encoding":{"y":{"field":"r","type":"quantitative","axis":{"orient":"right","values":[0,0.1,0.2,0.3,0.4,0.5,0.6,0.7,0.8,0.9,1],"title":null,"tickSize":{"condition":{"test":"datum.value==0||datum.value==0.5||datum.value==1","value":-5},"value":-2.5}}}}},
  {"mark":{"type":"line","color":"#2fbdd2"},"encoding":{"x":{"field":"x","type":"quantitative","scale":{"domain":[0,1.1],"nice":false,"zero":false},"axis":{"orient":"top","values":[0,0.1,0.2,0.3,0.4,0.5,0.6,0.7,0.8,0.9,1],"title":null,"tickSize":{"condition":{"test":"datum.value==0||datum.value==0.5||datum.value==1","value":-5},"value":-2.5}}},"y":{"field":"c","type":"quantitative","axis":null}}}
 ]},
{"transform":[{"filter":"datum.p=='T'&&datum.g=='B'"}],"width":74,"height":65,
 "encoding":{"x":{"field":"x","type":"quantitative","scale":{"domain":[29,60],"nice":false,"zero":false},"axis":null}},
 "layer":[
  {"mark":{"type":"bar","width":4.8,"color":"#4b4b4b"},"encoding":{"x":{"field":"x","type":"quantitative","scale":{"domain":[29,60],"nice":false,"zero":false},"axis":{"orient":"bottom","values":[30,32,34,36,38,40,42,44,46,48,50,52,54,56,58],"labels":false,"title":null,"tickSize":{"condition":{"test":"datum.value==30||datum.value==40||datum.value==50","value":-5},"value":-2.5}}},"y":{"field":"k","type":"quantitative","scale":{"domain":[0,1],"nice":false},"axis":{"orient":"left","values":[0,0.1,0.2,0.3,0.4,0.5,0.6,0.7,0.8,0.9,1],"labels":false,"title":null,"tickSize":{"condition":{"test":"datum.value==0||datum.value==0.5||datum.value==1","value":-5},"value":-2.5}}}}},
  {"mark":{"type":"bar","width":4.8,"color":"#c2e7b6"},"encoding":{"y":{"field":"c","type":"quantitative","axis":null}}},
  {"mark":{"type":"bar","width":4.8,"color":"#3a6cc0"},"encoding":{"y":{"field":"b","type":"quantitative","axis":null}}},
  {"mark":{"type":"bar","width":4.8,"color":"#3f9440"},"encoding":{"y":{"field":"n","type":"quantitative","axis":null}}},
  {"mark":{"type":"line","color":"#cc2b3b"},"encoding":{"y":{"field":"r","type":"quantitative","axis":{"orient":"right","values":[0,0.1,0.2,0.3,0.4,0.5,0.6,0.7,0.8,0.9,1],"title":null,"tickSize":{"condition":{"test":"datum.value==0||datum.value==0.5||datum.value==1","value":-5},"value":-2.5}}}}},
  {"mark":{"type":"line","color":"#2fbdd2"},"encoding":{"x":{"field":"x","type":"quantitative","scale":{"domain":[29,60],"nice":false,"zero":false},"axis":{"orient":"top","values":[30,32,34,36,38,40,42,44,46,48,50,52,54,56,58],"title":null,"tickSize":{"condition":{"test":"datum.value==30||datum.value==40||datum.value==50","value":-5},"value":-2.5}}},"y":{"field":"c","type":"quantitative","axis":null}}}
 ]},
{"transform":[{"filter":"datum.p=='C'&&datum.g=='B'"}],"width":74,"height":65,
 "encoding":{"x":{"field":"x","type":"quantitative","scale":{"domain":[0,1],"nice":false,"zero":false},"axis":null}},
 "layer":[
  {"mark":{"type":"bar","width":3.7,"color":"#4b4b4b"},"encoding":{"x":{"field":"x","type":"quantitative","scale":{"domain":[0,1],"nice":false,"zero":false},"axis":{"orient":"bottom","values":[0,0.1,0.2,0.3,0.4,0.5,0.6,0.7,0.8,0.9],"labels":false,"title":null,"tickSize":{"condition":{"test":"datum.value==0||datum.value==0.5","value":-5},"value":-2.5}}},"y":{"field":"k","type":"quantitative","scale":{"domain":[0,1],"nice":false},"axis":{"orient":"left","values":[0,0.1,0.2,0.3,0.4,0.5,0.6,0.7,0.8,0.9,1],"labels":false,"title":null,"tickSize":{"condition":{"test":"datum.value==0||datum.value==0.5||datum.value==1","value":-5},"value":-2.5}}}}},
  {"mark":{"type":"bar","width":3.7,"color":"#c2e7b6"},"encoding":{"y":{"field":"c","type":"quantitative","axis":null}}},
  {"mark":{"type":"bar","width":3.7,"color":"#3a6cc0"},"encoding":{"y":{"field":"b","type":"quantitative","axis":null}}},
  {"mark":{"type":"bar","width":3.7,"color":"#3f9440"},"encoding":{"y":{"field":"n","type":"quantitative","axis":null}}},
  {"mark":{"type":"line","color":"#cc2b3b"},"encoding":{"y":{"field":"r","type":"quantitative","axis":{"orient":"right","values":[0,0.1,0.2,0.3,0.4,0.5,0.6,0.7,0.8,0.9,1],"title":null,"tickSize":{"condition":{"test":"datum.value==0||datum.value==0.5||datum.value==1","value":-5},"value":-2.5}}}}},
  {"mark":{"type":"line","color":"#2fbdd2"},"encoding":{"x":{"field":"x","type":"quantitative","scale":{"domain":[0,1],"nice":false,"zero":false},"axis":{"orient":"top","values":[0,0.1,0.2,0.3,0.4,0.5,0.6,0.7,0.8,0.9],"title":null,"tickSize":{"condition":{"test":"datum.value==0||datum.value==0.5","value":-5},"value":-2.5}}},"y":{"field":"c","type":"quantitative","axis":null}}}
 ]},
{"transform":[{"filter":"datum.p=='I'&&datum.g=='B'"}],"width":74,"height":65,
 "encoding":{"x":{"field":"x","type":"quantitative","scale":{"domain":[14.6,25],"nice":false,"zero":false},"axis":null}},
 "layer":[
  {"mark":{"type":"bar","width":7.4,"color":"#4b4b4b"},"encoding":{"x":{"field":"x","type":"quantitative","scale":{"domain":[14.6,25],"nice":false,"zero":false},"axis":{"orient":"bottom","values":[15,16,17,18,19,20,21,22,23,24,25],"labels":false,"title":null,"tickSize":{"condition":{"test":"datum.value==15||datum.value==20||datum.value==25","value":-5},"value":-2.5}}},"y":{"field":"k","type":"quantitative","scale":{"domain":[0,1],"nice":false},"axis":{"orient":"left","values":[0,0.1,0.2,0.3,0.4,0.5,0.6,0.7,0.8,0.9,1],"labels":false,"title":null,"tickSize":{"condition":{"test":"datum.value==0||datum.value==0.5||datum.value==1","value":-5},"value":-2.5}}}}},
  {"mark":{"type":"bar","width":7.4,"color":"#c2e7b6"},"encoding":{"y":{"field":"c","type":"quantitative","axis":null}}},
  {"mark":{"type":"bar","width":7.4,"color":"#3a6cc0"},"encoding":{"y":{"field":"b","type":"quantitative","axis":null}}},
  {"mark":{"type":"bar","width":7.4,"color":"#3f9440"},"encoding":{"y":{"field":"n","type":"quantitative","axis":null}}},
  {"mark":{"type":"line","color":"#cc2b3b"},"encoding":{"y":{"field":"r","type":"quantitative","axis":{"orient":"right","values":[0,0.1,0.2,0.3,0.4,0.5,0.6,0.7,0.8,0.9,1],"title":null,"tickSize":{"condition":{"test":"datum.value==0||datum.value==0.5||datum.value==1","value":-5},"value":-2.5}}}}},
  {"mark":{"type":"line","color":"#2fbdd2"},"encoding":{"x":{"field":"x","type":"quantitative","scale":{"domain":[14.6,25],"nice":false,"zero":false},"axis":{"orient":"top","values":[15,16,17,18,19,20,21,22,23,24,25],"title":null,"tickSize":{"condition":{"test":"datum.value==15||datum.value==20||datum.value==25","value":-5},"value":-2.5}}},"y":{"field":"c","type":"quantitative","axis":null}}}
 ]},
{"transform":[{"filter":"datum.p=='L'&&datum.g=='C'"}],"width":74,"height":65,"title":"Mrk33",
 "encoding":{"x":{"field":"x","type":"quantitative","scale":{"domain":[8.83,10.93],"nice":false,"zero":false},"axis":null}},
 "layer":[
  {"mark":{"type":"bar","width":3.5,"color":"#4b4b4b"},"encoding":{"x":{"field":"x","type":"quantitative","scale":{"domain":[8.83,10.93],"nice":false,"zero":false},"axis":{"orient":"bottom","values":[9,9.2,9.4,9.6,9.8,10,10.2,10.4,10.6,10.8],"labelExpr":"datum.value==9||datum.value==10 ? format(datum.value,'d') : ''","title":["\u00a0\u00a0\u00a0\u00a0\u00a0\u00a0\u00a0\u00a0tot\u00a0\u00a0\u00a0\u00a0","log (L d /L\u2299)"],"tickSize":{"condition":{"test":"datum.value==9||datum.value==10","value":-5},"value":-2.5}}},"y":{"field":"k","type":"quantitative","scale":{"domain":[0,1],"nice":false},"axis":{"orient":"left","values":[0,0.1,0.2,0.3,0.4,0.5,0.6,0.7,0.8,0.9,1],"labelExpr":"datum.value==0||datum.value==0.5||datum.value==1 ? format(datum.value,'.1f') : ''","title":null,"tickSize":{"condition":{"test":"datum.value==0||datum.value==0.5||datum.value==1","value":-5},"value":-2.5}}}}},
  {"mark":{"type":"bar","width":3.5,"color":"#c2e7b6"},"encoding":{"y":{"field":"c","type":"quantitative","axis":null}}},
  {"mark":{"type":"bar","width":3.5,"color":"#3a6cc0"},"encoding":{"y":{"field":"b","type":"quantitative","axis":null}}},
  {"mark":{"type":"bar","width":3.5,"color":"#3f9440"},"encoding":{"y":{"field":"n","type":"quantitative","axis":null}}},
  {"mark":{"type":"line","color":"#cc2b3b"},"encoding":{"y":{"field":"r","type":"quantitative","axis":{"orient":"right","values":[0,0.1,0.2,0.3,0.4,0.5,0.6,0.7,0.8,0.9,1],"title":null,"tickSize":{"condition":{"test":"datum.value==0||datum.value==0.5||datum.value==1","value":-5},"value":-2.5}}}}},
  {"mark":{"type":"line","color":"#2fbdd2"},"encoding":{"x":{"field":"x","type":"quantitative","scale":{"domain":[8.83,10.93],"nice":false,"zero":false},"axis":{"orient":"top","values":[9,9.2,9.4,9.6,9.8,10,10.2,10.4,10.6,10.8],"title":null,"tickSize":{"condition":{"test":"datum.value==9||datum.value==10","value":-5},"value":-2.5}}},"y":{"field":"c","type":"quantitative","axis":null}}}
 ]},
{"transform":[{"filter":"datum.p=='P'&&datum.g=='C'"}],"width":74,"height":65,
 "encoding":{"x":{"field":"x","type":"quantitative","scale":{"domain":[0,0.43],"nice":false,"zero":false},"axis":null}},
 "layer":[
  {"mark":{"type":"bar","width":7.7,"color":"#4b4b4b"},"encoding":{"x":{"field":"x","type":"quantitative","scale":{"domain":[0,0.43],"nice":false,"zero":false},"axis":{"orient":"bottom","values":[0,0.05,0.1,0.15,0.2,0.25,0.3,0.35,0.4],"labelExpr":"datum.value==0||datum.value==0.2||datum.value==0.4 ? format(datum.value,'.1f') : ''","title":["\u00a0\u00a0\u00a0\u00a0tot","\u03be PAH"],"tickSize":{"condition":{"test":"datum.value==0||datum.value==0.2||datum.value==0.4","value":-5},"value":-2.5}}},"y":{"field":"k","type":"quantitative","scale":{"domain":[0,1],"nice":false},"axis":{"orient":"left","values":[0,0.1,0.2,0.3,0.4,0.5,0.6,0.7,0.8,0.9,1],"labels":false,"title":null,"tickSize":{"condition":{"test":"datum.value==0||datum.value==0.5||datum.value==1","value":-5},"value":-2.5}}}}},
  {"mark":{"type":"bar","width":7.7,"color":"#c2e7b6"},"encoding":{"y":{"field":"c","type":"quantitative","axis":null}}},
  {"mark":{"type":"bar","width":7.7,"color":"#3a6cc0"},"encoding":{"y":{"field":"b","type":"quantitative","axis":null}}},
  {"mark":{"type":"bar","width":7.7,"color":"#3f9440"},"encoding":{"y":{"field":"n","type":"quantitative","axis":null}}},
  {"mark":{"type":"line","color":"#cc2b3b"},"encoding":{"y":{"field":"r","type":"quantitative","axis":{"orient":"right","values":[0,0.1,0.2,0.3,0.4,0.5,0.6,0.7,0.8,0.9,1],"title":null,"tickSize":{"condition":{"test":"datum.value==0||datum.value==0.5||datum.value==1","value":-5},"value":-2.5}}}}},
  {"mark":{"type":"line","color":"#2fbdd2"},"encoding":{"x":{"field":"x","type":"quantitative","scale":{"domain":[0,0.43],"nice":false,"zero":false},"axis":{"orient":"top","values":[0,0.05,0.1,0.15,0.2,0.25,0.3,0.35,0.4],"title":null,"tickSize":{"condition":{"test":"datum.value==0||datum.value==0.2||datum.value==0.4","value":-5},"value":-2.5}}},"y":{"field":"c","type":"quantitative","axis":null}}}
 ]},
{"transform":[{"filter":"datum.p=='M'&&datum.g=='C'"}],"width":74,"height":65,
 "encoding":{"x":{"field":"x","type":"quantitative","scale":{"domain":[0,0.5],"nice":false,"zero":false},"axis":null}},
 "layer":[
  {"mark":{"type":"bar","width":7.4,"color":"#4b4b4b"},"encoding":{"x":{"field":"x","type":"quantitative","scale":{"domain":[0,0.5],"nice":false,"zero":false},"axis":{"orient":"bottom","values":[0,0.05,0.1,0.15,0.2,0.25,0.3,0.35,0.4,0.45,0.5],"labelExpr":"datum.value==0.2||datum.value==0.4 ? format(datum.value,'.1f') : ''","title":["\u00a0\u00a0\u00a0\u00a0tot","\u03be MIR"],"tickSize":{"condition":{"test":"datum.value==0.2||datum.value==0.4","value":-5},"value":-2.5}}},"y":{"field":"k","type":"quantitative","scale":{"domain":[0,1],"nice":false},"axis":{"orient":"left","values":[0,0.1,0.2,0.3,0.4,0.5,0.6,0.7,0.8,0.9,1],"labels":false,"title":null,"tickSize":{"condition":{"test":"datum.value==0||datum.value==0.5||datum.value==1","value":-5},"value":-2.5}}}}},
  {"mark":{"type":"bar","width":7.4,"color":"#c2e7b6"},"encoding":{"y":{"field":"c","type":"quantitative","axis":null}}},
  {"mark":{"type":"bar","width":7.4,"color":"#3a6cc0"},"encoding":{"y":{"field":"b","type":"quantitative","axis":null}}},
  {"mark":{"type":"bar","width":7.4,"color":"#3f9440"},"encoding":{"y":{"field":"n","type":"quantitative","axis":null}}},
  {"mark":{"type":"line","color":"#cc2b3b"},"encoding":{"y":{"field":"r","type":"quantitative","axis":{"orient":"right","values":[0,0.1,0.2,0.3,0.4,0.5,0.6,0.7,0.8,0.9,1],"title":null,"tickSize":{"condition":{"test":"datum.value==0||datum.value==0.5||datum.value==1","value":-5},"value":-2.5}}}}},
  {"mark":{"type":"line","color":"#2fbdd2"},"encoding":{"x":{"field":"x","type":"quantitative","scale":{"domain":[0,0.5],"nice":false,"zero":false},"axis":{"orient":"top","values":[0,0.05,0.1,0.15,0.2,0.25,0.3,0.35,0.4,0.45,0.5],"title":null,"tickSize":{"condition":{"test":"datum.value==0.2||datum.value==0.4","value":-5},"value":-2.5}}},"y":{"field":"c","type":"quantitative","axis":null}}}
 ]},
{"transform":[{"filter":"datum.p=='W'&&datum.g=='C'"}],"width":74,"height":65,
 "encoding":{"x":{"field":"x","type":"quantitative","scale":{"domain":[0,1.1],"nice":false,"zero":false},"axis":null}},
 "layer":[
  {"mark":{"type":"bar","width":3.4,"color":"#4b4b4b"},"encoding":{"x":{"field":"x","type":"quantitative","scale":{"domain":[0,1.1],"nice":false,"zero":false},"axis":{"orient":"bottom","values":[0,0.1,0.2,0.3,0.4,0.5,0.6,0.7,0.8,0.9,1],"labelExpr":"datum.value==0||datum.value==0.5 ? format(datum.value,'.1f') : ''","title":["\u00a0\u00a0\u00a0tot","\u03be W"],"tickSize":{"condition":{"test":"datum.value==0||datum.value==0.5||datum.value==1","value":-5},"value":-2.5}}},"y":{"field":"k","type":"quantitative","scale":{"domain":[0,1],"nice":false},"axis":{"orient":"left","values":[0,0.1,0.2,0.3,0.4,0.5,0.6,0.7,0.8,0.9,1],"labels":false,"title":null,"tickSize":{"condition":{"test":"datum.value==0||datum.value==0.5||datum.value==1","value":-5},"value":-2.5}}}}},
  {"mark":{"type":"bar","width":3.4,"color":"#c2e7b6"},"encoding":{"y":{"field":"c","type":"quantitative","axis":null}}},
  {"mark":{"type":"bar","width":3.4,"color":"#3a6cc0"},"encoding":{"y":{"field":"b","type":"quantitative","axis":null}}},
  {"mark":{"type":"bar","width":3.4,"color":"#3f9440"},"encoding":{"y":{"field":"n","type":"quantitative","axis":null}}},
  {"mark":{"type":"line","color":"#cc2b3b"},"encoding":{"y":{"field":"r","type":"quantitative","axis":{"orient":"right","values":[0,0.1,0.2,0.3,0.4,0.5,0.6,0.7,0.8,0.9,1],"title":null,"tickSize":{"condition":{"test":"datum.value==0||datum.value==0.5||datum.value==1","value":-5},"value":-2.5}}}}},
  {"mark":{"type":"line","color":"#2fbdd2"},"encoding":{"x":{"field":"x","type":"quantitative","scale":{"domain":[0,1.1],"nice":false,"zero":false},"axis":{"orient":"top","values":[0,0.1,0.2,0.3,0.4,0.5,0.6,0.7,0.8,0.9,1],"title":null,"tickSize":{"condition":{"test":"datum.value==0||datum.value==0.5||datum.value==1","value":-5},"value":-2.5}}},"y":{"field":"c","type":"quantitative","axis":null}}}
 ]},
{"transform":[{"filter":"datum.p=='T'&&datum.g=='C'"}],"width":74,"height":65,
 "encoding":{"x":{"field":"x","type":"quantitative","scale":{"domain":[29,60],"nice":false,"zero":false},"axis":null}},
 "layer":[
  {"mark":{"type":"bar","width":4.8,"color":"#4b4b4b"},"encoding":{"x":{"field":"x","type":"quantitative","scale":{"domain":[29,60],"nice":false,"zero":false},"axis":{"orient":"bottom","values":[30,32,34,36,38,40,42,44,46,48,50,52,54,56,58],"labelExpr":"datum.value==30||datum.value==40||datum.value==50 ? format(datum.value,'d') : ''","title":["\u00a0\u00a0BC","T W /K"],"tickSize":{"condition":{"test":"datum.value==30||datum.value==40||datum.value==50","value":-5},"value":-2.5}}},"y":{"field":"k","type":"quantitative","scale":{"domain":[0,1],"nice":false},"axis":{"orient":"left","values":[0,0.1,0.2,0.3,0.4,0.5,0.6,0.7,0.8,0.9,1],"labels":false,"title":null,"tickSize":{"condition":{"test":"datum.value==0||datum.value==0.5||datum.value==1","value":-5},"value":-2.5}}}}},
  {"mark":{"type":"bar","width":4.8,"color":"#c2e7b6"},"encoding":{"y":{"field":"c","type":"quantitative","axis":null}}},
  {"mark":{"type":"bar","width":4.8,"color":"#3a6cc0"},"encoding":{"y":{"field":"b","type":"quantitative","axis":null}}},
  {"mark":{"type":"bar","width":4.8,"color":"#3f9440"},"encoding":{"y":{"field":"n","type":"quantitative","axis":null}}},
  {"mark":{"type":"line","color":"#cc2b3b"},"encoding":{"y":{"field":"r","type":"quantitative","axis":{"orient":"right","values":[0,0.1,0.2,0.3,0.4,0.5,0.6,0.7,0.8,0.9,1],"title":null,"tickSize":{"condition":{"test":"datum.value==0||datum.value==0.5||datum.value==1","value":-5},"value":-2.5}}}}},
  {"mark":{"type":"line","color":"#2fbdd2"},"encoding":{"x":{"field":"x","type":"quantitative","scale":{"domain":[29,60],"nice":false,"zero":false},"axis":{"orient":"top","values":[30,32,34,36,38,40,42,44,46,48,50,52,54,56,58],"title":null,"tickSize":{"condition":{"test":"datum.value==30||datum.value==40||datum.value==50","value":-5},"value":-2.5}}},"y":{"field":"c","type":"quantitative","axis":null}}}
 ]},
{"transform":[{"filter":"datum.p=='C'&&datum.g=='C'"}],"width":74,"height":65,
 "encoding":{"x":{"field":"x","type":"quantitative","scale":{"domain":[0,1],"nice":false,"zero":false},"axis":null}},
 "layer":[
  {"mark":{"type":"bar","width":3.7,"color":"#4b4b4b"},"encoding":{"x":{"field":"x","type":"quantitative","scale":{"domain":[0,1],"nice":false,"zero":false},"axis":{"orient":"bottom","values":[0,0.1,0.2,0.3,0.4,0.5,0.6,0.7,0.8,0.9],"labelExpr":"datum.value==0||datum.value==0.5 ? format(datum.value,'.1f') : ''","title":["\u00a0\u00a0\u00a0tot","\u03be C"],"tickSize":{"condition":{"test":"datum.value==0||datum.value==0.5","value":-5},"value":-2.5}}},"y":{"field":"k","type":"quantitative","scale":{"domain":[0,1],"nice":false},"axis":{"orient":"left","values":[0,0.1,0.2,0.3,0.4,0.5,0.6,0.7,0.8,0.9,1],"labels":false,"title":null,"tickSize":{"condition":{"test":"datum.value==0||datum.value==0.5||datum.value==1","value":-5},"value":-2.5}}}}},
  {"mark":{"type":"bar","width":3.7,"color":"#c2e7b6"},"encoding":{"y":{"field":"c","type":"quantitative","axis":null}}},
  {"mark":{"type":"bar","width":3.7,"color":"#3a6cc0"},"encoding":{"y":{"field":"b","type":"quantitative","axis":null}}},
  {"mark":{"type":"bar","width":3.7,"color":"#3f9440"},"encoding":{"y":{"field":"n","type":"quantitative","axis":null}}},
  {"mark":{"type":"line","color":"#cc2b3b"},"encoding":{"y":{"field":"r","type":"quantitative","axis":{"orient":"right","values":[0,0.1,0.2,0.3,0.4,0.5,0.6,0.7,0.8,0.9,1],"title":null,"tickSize":{"condition":{"test":"datum.value==0||datum.value==0.5||datum.value==1","value":-5},"value":-2.5}}}}},
  {"mark":{"type":"line","color":"#2fbdd2"},"encoding":{"x":{"field":"x","type":"quantitative","scale":{"domain":[0,1],"nice":false,"zero":false},"axis":{"orient":"top","values":[0,0.1,0.2,0.3,0.4,0.5,0.6,0.7,0.8,0.9],"title":null,"tickSize":{"condition":{"test":"datum.value==0||datum.value==0.5","value":-5},"value":-2.5}}},"y":{"field":"c","type":"quantitative","axis":null}}}
 ]},
{"transform":[{"filter":"datum.p=='I'&&datum.g=='C'"}],"width":74,"height":65,
 "encoding":{"x":{"field":"x","type":"quantitative","scale":{"domain":[14.6,25],"nice":false,"zero":false},"axis":null}},
 "layer":[
  {"mark":{"type":"bar","width":7.4,"color":"#4b4b4b"},"encoding":{"x":{"field":"x","type":"quantitative","scale":{"domain":[14.6,25],"nice":false,"zero":false},"axis":{"orient":"bottom","values":[15,16,17,18,19,20,21,22,23,24,25],"labelExpr":"datum.value==15||datum.value==20||datum.value==25 ? format(datum.value,'d') : ''","title":["\u00a0\u00a0\u00a0ISM","T C /K"],"tickSize":{"condition":{"test":"datum.value==15||datum.value==20||datum.value==25","value":-5},"value":-2.5}}},"y":{"field":"k","type":"quantitative","scale":{"domain":[0,1],"nice":false},"axis":{"orient":"left","values":[0,0.1,0.2,0.3,0.4,0.5,0.6,0.7,0.8,0.9,1],"labels":false,"title":null,"tickSize":{"condition":{"test":"datum.value==0||datum.value==0.5||datum.value==1","value":-5},"value":-2.5}}}}},
  {"mark":{"type":"bar","width":7.4,"color":"#c2e7b6"},"encoding":{"y":{"field":"c","type":"quantitative","axis":null}}},
  {"mark":{"type":"bar","width":7.4,"color":"#3a6cc0"},"encoding":{"y":{"field":"b","type":"quantitative","axis":null}}},
  {"mark":{"type":"bar","width":7.4,"color":"#3f9440"},"encoding":{"y":{"field":"n","type":"quantitative","axis":null}}},
  {"mark":{"type":"line","color":"#cc2b3b"},"encoding":{"y":{"field":"r","type":"quantitative","axis":{"orient":"right","values":[0,0.1,0.2,0.3,0.4,0.5,0.6,0.7,0.8,0.9,1],"title":null,"tickSize":{"condition":{"test":"datum.value==0||datum.value==0.5||datum.value==1","value":-5},"value":-2.5}}}}},
  {"mark":{"type":"line","color":"#2fbdd2"},"encoding":{"x":{"field":"x","type":"quantitative","scale":{"domain":[14.6,25],"nice":false,"zero":false},"axis":{"orient":"top","values":[15,16,17,18,19,20,21,22,23,24,25],"title":null,"tickSize":{"condition":{"test":"datum.value==15||datum.value==20||datum.value==25","value":-5},"value":-2.5}}},"y":{"field":"c","type":"quantitative","axis":null}}}
 ]}
]
}
